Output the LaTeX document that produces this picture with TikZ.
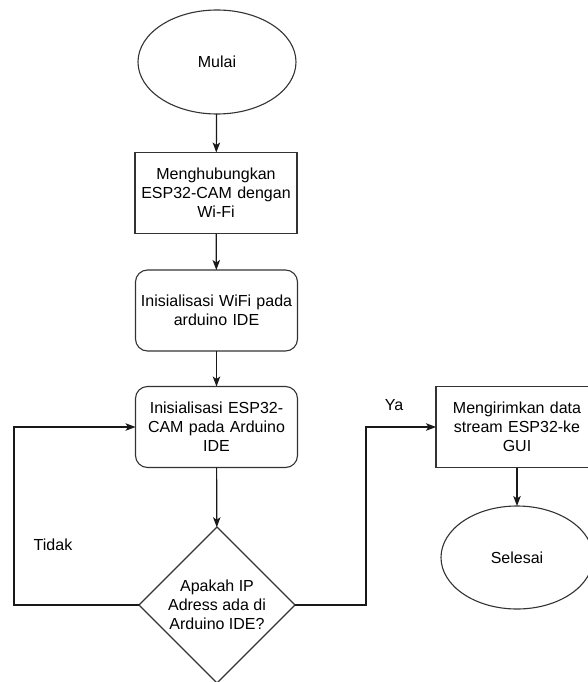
\documentclass[tikz,border=0pt]{standalone}
\usepackage{fontspec}
\setmainfont{Liberation Sans}
\usetikzlibrary{shapes.geometric,arrows.meta}
\begin{document}
\begin{tikzpicture}[x=1pt,y=-1pt,
  every node/.style={font=\fontsize{16}{19}\selectfont, text=black},
  shp/.style={draw=black!80, line width=1.1pt, fill=white, inner sep=0pt, outer sep=0pt, align=center},
  term/.style={shp, ellipse, minimum width=158pt, minimum height=104pt},
  procbox/.style={shp, rectangle, minimum width=162pt, minimum height=81pt, text width=154pt},
  roundbox/.style={procbox, rounded corners=12pt},
  decision/.style={shp, diamond, aspect=1, minimum width=156pt, minimum height=156pt},
  arr/.style={draw=black!90, line width=1.2pt, -{Stealth[length=10pt,width=7.5pt,inset=2.5pt]}},
  lbl/.style={inner sep=0pt}
]
\useasboundingbox (0,0) rectangle (588,682);
\clip (0,0) rectangle (588,682);

\node[term] (start) at (217,62) {Mulai};
\node[procbox] (b1) at (216,193) {Menghubungkan\\ESP32-CAM dengan\\Wi-Fi};
\node[roundbox] (b2) at (216.5,310.5) {Inisialisasi WiFi pada\\arduino IDE};
\node[roundbox] (b3) at (216.5,427) {Inisialisasi ESP32-\\CAM pada Arduino\\IDE};
\node[decision] (d) at (217,605) {Apakah IP\\Adress ada di\\Arduino IDE?};
\node[procbox] (b4) at (517,427) {Mengirimkan data\\stream ESP32-ke\\GUI};
\node[term, minimum width=152pt, minimum height=103pt] (end) at (517,557.5) {Selesai};

\node[lbl] (tidak) at (53,545) {Tidak};
\node[lbl] (ya) at (394,405) {Ya};

\coordinate (lp) at (14,605);
\coordinate (rp) at (366,605);

\draw[arr] (start) -- (b1);
\draw[arr] (b1) -- (b2);
\draw[arr] (b2) -- (b3);
\draw[arr] (b3) -- (d);
\draw[arr] (d.west) -- (lp) |- (b3.west);
\draw[arr] (d.east) -- (rp) |- (b4.west);
\draw[arr] (b4) -- (end);
\end{tikzpicture}
\end{document}
